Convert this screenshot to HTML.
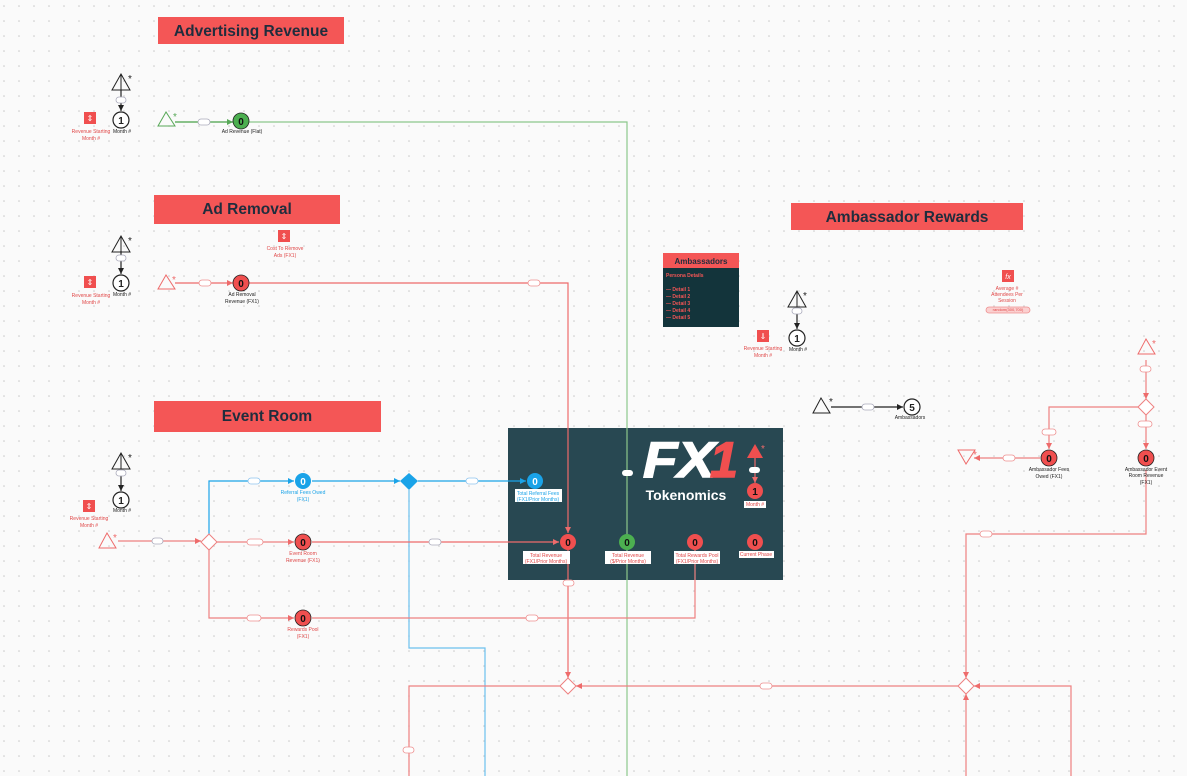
<!DOCTYPE html>
<html><head><meta charset="utf-8"><style>
html,body{margin:0;padding:0;background:#fafafa;}
svg{display:block;font-family:"Liberation Sans",sans-serif;}
</style></head><body>
<svg width="1187" height="776" viewBox="0 0 1187 776" xmlns="http://www.w3.org/2000/svg">
<defs>
<pattern id="g" width="15" height="15" patternUnits="userSpaceOnUse" x="3" y="5"><circle cx="1" cy="1" r="0.8" fill="#c9c9c9"/></pattern>
<marker id="ar" markerWidth="6" markerHeight="6" refX="5" refY="3" orient="auto"><path d="M0,0.5 L5,3 L0,5.5z" fill="#ee6b6b"/></marker>
<marker id="ab" markerWidth="6" markerHeight="6" refX="5" refY="3" orient="auto"><path d="M0,0.5 L5,3 L0,5.5z" fill="#1aa3e8"/></marker>
<marker id="ag" markerWidth="6" markerHeight="6" refX="5" refY="3" orient="auto"><path d="M0,0.5 L5,3 L0,5.5z" fill="#58a858"/></marker>
<marker id="ak" markerWidth="6" markerHeight="6" refX="5" refY="3" orient="auto"><path d="M0,0.5 L5,3 L0,5.5z" fill="#222"/></marker>
</defs>
<rect width="1187" height="776" fill="#fafafa"/>
<rect width="1187" height="776" fill="url(#g)"/>

<g font-weight="bold" font-size="15.5" fill="#1f2d3d" text-anchor="middle">
<rect x="158" y="17" width="186" height="27" fill="#f45656"/><text x="251" y="36">Advertising Revenue</text>
<rect x="154" y="195" width="186" height="29" fill="#f45656"/><text x="247" y="214">Ad Removal</text>
<rect x="154" y="401" width="227" height="31" fill="#f45656"/><text x="267" y="421">Event Room</text>
<rect x="791" y="203" width="232" height="27" fill="#f45656"/><text x="907" y="222">Ambassador Rewards</text>
</g>

<rect x="508" y="428" width="275" height="152" fill="#284852"/>
<text x="643" y="477" font-size="50" font-weight="900" font-style="italic" fill="#fff" textLength="72" lengthAdjust="spacingAndGlyphs" stroke="#fff" stroke-width="1.5">FX</text>
<text x="710" y="477" font-size="50" font-weight="900" font-style="italic" fill="#f04f4f" stroke="#f04f4f" stroke-width="1.5">1</text>
<text x="686" y="500" font-size="14" font-weight="bold" fill="#fff" text-anchor="middle">Tokenomics</text>

<g fill="none" stroke-width="1.2">
<path d="M175,122 H627 V776" stroke="#8cc78c"/>
<path d="M175,122 H233" stroke="#58a858" marker-end="url(#ag)"/>
<path d="M175,283 H233" stroke="#ee6b6b" marker-end="url(#ar)"/>
<path d="M249,283 H568 V533" stroke="#ee6b6b" marker-end="url(#ar)"/>
<path d="M568,550 V678" stroke="#ee6b6b" marker-end="url(#ar)"/>
<path d="M118,541 H201" stroke="#ee8080" marker-end="url(#ar)"/>
<path d="M209,534 V481 H294" stroke="#1aa3e8" marker-end="url(#ab)"/>
<path d="M312,481 H400" stroke="#1aa3e8" marker-end="url(#ab)"/>
<path d="M418,481 H526" stroke="#1aa3e8" marker-end="url(#ab)"/>
<path d="M409,490 V648 H485 V776" stroke="#6cc0ee"/>
<path d="M217,542 H294" stroke="#ee8080" marker-end="url(#ar)"/>
<path d="M312,542 H559" stroke="#ee6b6b" marker-end="url(#ar)"/>
<path d="M209,550 V618 H294" stroke="#ee8080" marker-end="url(#ar)"/>
<path d="M312,618 H695 V550" stroke="#ee8080" marker-end="url(#ar)"/>
<path d="M560,686 H409 V776" stroke="#ee8080"/>
<path d="M958,686 H576" stroke="#ee8080" marker-end="url(#ar)"/>
<path d="M1146,470 V534 H966 V678" stroke="#ee8080" marker-end="url(#ar)"/>
<path d="M966,776 V694" stroke="#ee8080" marker-end="url(#ar)"/>
<path d="M1071,776 V686 H974" stroke="#ee8080" marker-end="url(#ar)"/>
<path d="M1146,360 V399" stroke="#ee8080" marker-end="url(#ar)"/>
<path d="M1138,407 H1049 V449" stroke="#ee8080" marker-end="url(#ar)"/>
<path d="M1146,415 V449" stroke="#ee8080" marker-end="url(#ar)"/>
<path d="M1040,458 H974" stroke="#ee8080" marker-end="url(#ar)"/>
<path d="M755,456 V483" stroke="#ee6b6b" marker-end="url(#ar)"/>
<path d="M121,90 V111" stroke="#222" marker-end="url(#ak)"/>
<path d="M121,251 V274" stroke="#222" marker-end="url(#ak)"/>
<path d="M121,470 V491" stroke="#222" marker-end="url(#ak)"/>
<path d="M797,308 V329" stroke="#222" marker-end="url(#ak)"/>
<path d="M831,407 H903" stroke="#222" marker-end="url(#ak)"/>
</g>

<g font-size="5" text-anchor="middle" stroke-width="0.8">
<g fill="#fff" stroke="#aab">
<rect x="198" y="119" width="12" height="6" rx="3"/>
<rect x="116" y="97" width="10" height="6" rx="3"/><rect x="116" y="255" width="10" height="6" rx="3"/><rect x="116" y="470" width="10" height="6" rx="3"/><rect x="792" y="308" width="10" height="6" rx="3"/><rect x="862" y="404" width="12" height="6" rx="3"/>
<rect x="429" y="539" width="12" height="6" rx="3"/><rect x="152" y="538" width="11" height="6" rx="3"/>
</g>
<g fill="#fff" stroke="#ee9090">
<rect x="199" y="280" width="12" height="6" rx="3"/><rect x="528" y="280" width="12" height="6" rx="3"/>
<rect x="247" y="539" width="16" height="6" rx="3"/><rect x="247" y="615" width="14" height="6" rx="3"/><rect x="526" y="615" width="12" height="6" rx="3"/>
<rect x="563" y="580" width="11" height="6" rx="3"/><rect x="760" y="683" width="12" height="6" rx="3"/><rect x="403" y="747" width="11" height="6" rx="3"/>
<rect x="980" y="531" width="12" height="6" rx="3"/><rect x="1003" y="455" width="12" height="6" rx="3"/><rect x="1042" y="429" width="14" height="6" rx="3"/><rect x="1138" y="421" width="14" height="6" rx="3"/><rect x="1140" y="366" width="11" height="6" rx="3"/>
<rect x="986" y="307" width="44" height="6" rx="3" fill="#fbd0d0"/>
</g>
<g fill="#fff" stroke="#8fc4ee"><rect x="248" y="478" width="12" height="6" rx="3"/><rect x="466" y="478" width="12" height="6" rx="3"/></g>
<rect x="622" y="470" width="11" height="6" rx="3" fill="#fff"/>
<rect x="749" y="467" width="11" height="6" rx="3" fill="#fff"/>
</g>

<g fill="none" stroke-width="1">
<path d="M121,74 L112,90 H130Z" stroke="#222"/><path d="M121,74 V90" stroke="#222"/>
<path d="M121,236 L112,252 H130Z" stroke="#222"/><path d="M121,236 V252" stroke="#222"/>
<path d="M121,453 L112,469 H130Z" stroke="#222"/><path d="M121,453 V469" stroke="#222"/>
<path d="M797,291 L788,307 H806Z" stroke="#222"/><path d="M797,291 V307" stroke="#222"/>
<path d="M821,398 L813,413 H830Z" stroke="#222"/>
<path d="M166,112 L158,126 H175Z" stroke="#58a858"/>
<path d="M166,275 L158,289 H175Z" stroke="#ee6b6b"/>
<path d="M107,533 L99,548 H116Z" stroke="#ee6b6b"/>
<path d="M1146,339 L1138,354 H1155Z" stroke="#ee6b6b"/>
<path d="M966,464 L958,450 H975Z" stroke="#ee6b6b"/>
<path d="M209,534 L217,542 L209,550 L201,542Z" stroke="#ee8080" fill="#fff"/>
<path d="M568,678 L576,686 L568,694 L560,686Z" stroke="#ee8080" fill="#fff"/>
<path d="M966,678 L974,686 L966,694 L958,686Z" stroke="#ee8080" fill="#fff"/>
<path d="M1146,399 L1154,407 L1146,415 L1138,407Z" stroke="#ee8080" fill="#fff"/>
</g>
<path d="M409,473 L418,481 L409,490 L400,481Z" fill="#1aa3e8"/>
<path d="M755,444 L747,458 H763Z" fill="#f04f4f"/>
<g font-size="10" fill="#222"><text x="128" y="82">*</text><text x="128" y="244">*</text><text x="128" y="461">*</text><text x="803" y="299">*</text><text x="829" y="405">*</text></g>
<g font-size="10" fill="#ee6b6b"><text x="173" y="120" fill="#58a858">*</text><text x="172" y="283">*</text><text x="113" y="541">*</text><text x="1152" y="347">*</text><text x="973" y="458">*</text><text x="761" y="452">*</text></g>

<g font-weight="bold" text-anchor="middle" font-size="10">
<g fill="#fff" stroke="#222" stroke-width="1.2">
<circle cx="121" cy="120" r="8"/><circle cx="121" cy="283" r="8"/><circle cx="121" cy="500" r="8"/><circle cx="797" cy="338" r="8"/><circle cx="912" cy="407" r="8"/>
</g>
<g fill="#222"><text x="121" y="124">1</text><text x="121" y="287">1</text><text x="121" y="504">1</text><text x="797" y="342">1</text><text x="912" y="411">5</text></g>
<g stroke="#222" stroke-width="0.8">
<circle cx="241" cy="121" r="8" fill="#4caf50"/>
<circle cx="241" cy="283" r="8" fill="#f04f4f"/>
<circle cx="303" cy="542" r="8" fill="#f04f4f"/>
<circle cx="303" cy="618" r="8" fill="#f04f4f"/>
<circle cx="1049" cy="458" r="8" fill="#f04f4f"/>
<circle cx="1146" cy="458" r="8" fill="#f04f4f"/>
</g>
<circle cx="303" cy="481" r="8" fill="#1aa3e8"/>
<circle cx="535" cy="481" r="8" fill="#1aa3e8"/>
<circle cx="568" cy="542" r="8" fill="#f04f4f"/>
<circle cx="627" cy="542" r="8" fill="#4caf50"/>
<circle cx="695" cy="542" r="8" fill="#f04f4f"/>
<circle cx="755" cy="542" r="8" fill="#f04f4f"/>
<circle cx="755" cy="491" r="8" fill="#f04f4f"/>
<g fill="#111"><text x="241" y="125">0</text><text x="241" y="287">0</text><text x="303" y="546">0</text><text x="303" y="622">0</text><text x="1049" y="462">0</text><text x="1146" y="462">0</text><text x="568" y="546">0</text><text x="627" y="546">0</text><text x="695" y="546">0</text><text x="755" y="546">0</text><text x="755" y="495">1</text></g>
<g fill="#fff"><text x="303" y="485">0</text><text x="535" y="485">0</text></g>
</g>

<g font-size="5" text-anchor="middle" fill="#222">
<text x="122" y="133">Month #</text><text x="122" y="296">Month #</text><text x="122" y="512">Month #</text><text x="798" y="351">Month #</text>
<text x="242" y="133">Ad Revenue (Flat)</text>
<text x="242" y="296">Ad Removal</text><text x="242" y="303">Revenue (FX1)</text>
<text x="910" y="419">Ambassadors</text>
<text x="1049" y="471">Ambassador Fees</text><text x="1049" y="478">Owed (FX1)</text>
<text x="1146" y="471">Ambassador Event</text><text x="1146" y="477">Room Revenue</text><text x="1146" y="484">(FX1)</text>
</g>
<g font-size="5" text-anchor="middle" fill="#e04848">
<text x="91" y="133">Revenue Starting</text><text x="91" y="140">Month #</text>
<text x="91" y="297">Revenue Starting</text><text x="91" y="304">Month #</text>
<text x="89" y="520">Revenue Starting</text><text x="89" y="527">Month #</text>
<text x="763" y="350">Revenue Starting</text><text x="763" y="357">Month #</text>
<text x="285" y="250">Cost To Remove</text><text x="285" y="257">Ads (FX1)</text>
<text x="303" y="555">Event Room</text><text x="303" y="562">Revenue (FX1)</text>
<text x="303" y="631">Rewards Pool</text><text x="303" y="638">(FX1)</text>
<text x="1007" y="290">Average #</text><text x="1007" y="296">Attendees Per</text><text x="1007" y="302">Session</text>
<text x="1008" y="311" font-size="4">random(300,700)</text>
</g>
<g font-size="5" text-anchor="middle" fill="#1aa3e8"><text x="303" y="494">Referral Fees Owed</text><text x="303" y="501">(FX1)</text></g>
<g font-size="5" text-anchor="middle">
<rect x="515" y="489" width="47" height="13" fill="#fff"/><text x="538" y="495" fill="#1aa3e8">Total Referral Fees</text><text x="538" y="501" fill="#1aa3e8">(FX1/Prior Months)</text>
<rect x="523" y="551" width="47" height="13" fill="#fff"/><text x="546" y="557" fill="#e04848">Total Revenue</text><text x="546" y="563" fill="#e04848">(FX1/Prior Months)</text>
<rect x="605" y="551" width="46" height="13" fill="#fff"/><text x="628" y="557" fill="#e04848">Total Revenue</text><text x="628" y="563" fill="#e04848">($/Prior Months)</text>
<rect x="674" y="551" width="46" height="13" fill="#fff"/><text x="697" y="557" fill="#e04848">Total Rewards Pool</text><text x="697" y="563" fill="#e04848">(FX1/Prior Months)</text>
<rect x="739" y="551" width="35" height="7" fill="#fff"/><text x="756" y="556" fill="#e04848">Current Phase</text>
<rect x="744" y="501" width="22" height="7" fill="#fff"/><text x="755" y="506" fill="#e04848">Month #</text>
</g>

<g>
<rect x="84" y="112" width="12" height="12" fill="#f04f4f"/><rect x="84" y="276" width="12" height="12" fill="#f04f4f"/><rect x="83" y="500" width="12" height="12" fill="#f04f4f"/><rect x="278" y="230" width="12" height="12" fill="#f04f4f"/><rect x="757" y="330" width="12" height="12" fill="#f04f4f"/><rect x="1002" y="270" width="12" height="12" fill="#f04f4f"/>
<g fill="#fff" font-size="8" text-anchor="middle"><text x="90" y="121">⇕</text><text x="90" y="285">⇕</text><text x="89" y="509">⇕</text><text x="284" y="239">⇕</text><text x="763" y="339">⇓</text><text x="1008" y="279" font-style="italic" font-size="7">fx</text></g>
</g>

<rect x="663" y="253" width="76" height="74" fill="#13343b"/>
<rect x="663" y="253" width="76" height="15" fill="#f45656"/>
<text x="701" y="264" font-size="8" font-weight="bold" fill="#1f2d3d" text-anchor="middle">Ambassadors</text>
<g font-size="5" font-weight="bold" fill="#f45656"><text x="666" y="277">Persona Details</text>
<text x="666" y="291">— Detail 1</text><text x="666" y="298">— Detail 2</text><text x="666" y="305">— Detail 3</text><text x="666" y="312">— Detail 4</text><text x="666" y="319">— Detail 5</text></g>
</svg>
</body></html>
